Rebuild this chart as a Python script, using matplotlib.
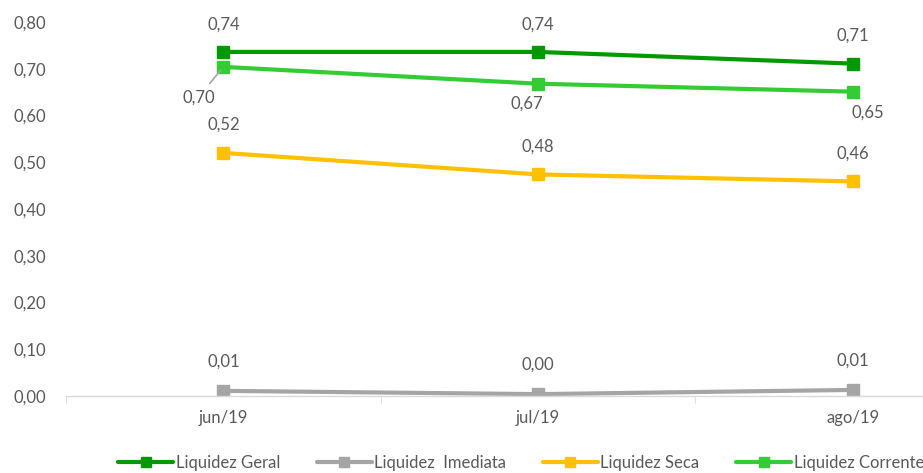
import matplotlib.pyplot as plt

plt.rcParams['font.family'] = ['Lato', 'DejaVu Sans']

meses = ['jun/19', 'jul/19', 'ago/19']
geral = [0.736, 0.736, 0.711]
imediata = [0.011, 0.004, 0.013]
seca = [0.520, 0.474, 0.459]
corrente = [0.704, 0.668, 0.651]

geral_lbl = ['0,74', '0,74', '0,71']
imediata_lbl = ['0,01', '0,00', '0,01']
seca_lbl = ['0,52', '0,48', '0,46']
corrente_lbl = ['0,70', '0,67', '0,65']

cinza_txt = '#595959'

fig = plt.figure(figsize=(9.23, 4.73), dpi=100)
ax = fig.add_axes([66 / 923, 77 / 473, 944 / 923, 374 / 473])

x = range(len(meses))
estilo = dict(lw=3, marker='s', ms=8, solid_capstyle='round')
ax.plot(x, geral, color='#009900', label='Liquidez Geral', **estilo)
ax.plot(x, imediata, color='#A5A5A5', label='Liquidez  Imediata', **estilo)
ax.plot(x, seca, color='#FFC000', label='Liquidez Seca', **estilo)
ax.plot(x, corrente, color='#33CC33', label='Liquidez Corrente', **estilo)

fs = 12
for i in x:
    ax.annotate(geral_lbl[i], (i, geral[i]), xytext=(0, 20), textcoords='offset points',
                ha='center', va='center', color=cinza_txt, fontsize=fs)
    ax.annotate(seca_lbl[i], (i, seca[i]), xytext=(0, 20), textcoords='offset points',
                ha='center', va='center', color=cinza_txt, fontsize=fs)
    ax.annotate(imediata_lbl[i], (i, imediata[i]), xytext=(0, 21), textcoords='offset points',
                ha='center', va='center', color=cinza_txt, fontsize=fs)

# rótulos da liquidez corrente
ax.annotate(corrente_lbl[0], (0, corrente[0]), xytext=(-18, -22), textcoords='offset points',
            ha='center', va='center', color=cinza_txt, fontsize=fs,
            arrowprops=dict(arrowstyle='-', color='#A5A5A5', lw=1.2, shrinkA=3, shrinkB=3))
ax.annotate(corrente_lbl[1], (1, corrente[1]), xytext=(-8, -14), textcoords='offset points',
            ha='center', va='center', color=cinza_txt, fontsize=fs)
ax.annotate(corrente_lbl[2], (2, corrente[2]), xytext=(11, -15), textcoords='offset points',
            ha='center', va='center', color=cinza_txt, fontsize=fs)

ax.set_xlim(-0.5, 2.5)
ax.set_ylim(0, 0.8)
ax.set_yticks([i / 10 for i in range(9)])
ax.set_yticklabels([f'{i / 10:.2f}'.replace('.', ',') for i in range(9)])
ax.set_xticks(list(x))
ax.set_xticklabels(meses)
ax.set_xticks([-0.5, 0.5, 1.5, 2.5], minor=True)

for s in ['top', 'right', 'left']:
    ax.spines[s].set_visible(False)
ax.spines['bottom'].set_color('#D9D9D9')
ax.spines['bottom'].set_linewidth(1)
ax.tick_params(axis='y', length=0, labelsize=fs, labelcolor=cinza_txt, pad=14)
ax.tick_params(axis='x', which='major', length=0, labelsize=fs, labelcolor=cinza_txt, pad=10)
ax.tick_params(axis='x', which='minor', length=5, color='#D9D9D9')

fig.legend(loc='center left', bbox_to_anchor=(118 / 923, 0.021), ncol=4, frameon=False,
           fontsize=fs, labelcolor=cinza_txt, handlelength=3.3, columnspacing=2.2,
           handletextpad=0.15, borderaxespad=0, borderpad=0, markerscale=0.85)

fig.savefig('out.png', dpi=100)
